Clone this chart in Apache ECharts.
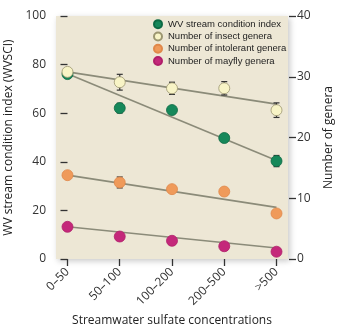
<!DOCTYPE html>
<html><head><meta charset="utf-8">
<script src="https://cdn.jsdelivr.net/npm/echarts@6/dist/echarts.min.js"></script>
<style>html,body{margin:0;padding:0;background:#fff}#c{width:357px;height:327px}</style>
</head><body><div id="c"></div>
<script>
const categories = ['0–50', '50–100', '100–200', '200–500', '>500'];
const wvsci = [76.1, 62.1, 61.3, 49.8, 40.3];
const wvsciErr = [0.6, 2.0, 1.2, 0.8, 2.3];
const wvsciTrend = [76.2, 40.5];
const insect = [30.8, 29.1, 28.1, 28.1, 24.5];
const insectErr = [0.3, 1.3, 1.0, 1.1, 1.2];
const insectTrend = [30.8, 25.5];
const intolerant = [13.8, 12.6, 11.5, 11.1, 7.5];
const intolerantErr = [0.3, 0.9, 0.4, 0.4, 0.4];
const intolerantTrend = [13.8, 8.5];
const mayfly = [5.3, 3.7, 3.0, 2.1, 1.2];
const mayflyErr = [0.2, 0.3, 0.2, 0.2, 0.2];
const mayflyTrend = [5.3, 1.8];

const font = 'Open Sans';
const idx = categories.map((c, i) => i);
const pts = arr => arr.map((v, i) => [i, v]);
const trend = t => [[0, t[0]], [categories.length - 1, t[1]]];
const errData = (vals, errs) => vals.map((v, i) => [i, v - errs[i], v + errs[i]]);

function errSeries(vals, errs, yIdx) {
  return {
    type: 'custom', yAxisIndex: yIdx, z: 2, silent: true,
    data: errData(vals, errs),
    renderItem: (params, api) => {
      const lo = api.coord([api.value(0), api.value(1)]);
      const hi = api.coord([api.value(0), api.value(2)]);
      const w = 3;
      const st = { stroke: '#333', lineWidth: 1.2 };
      return { type: 'group', children: [
        { type: 'line', shape: { x1: lo[0], y1: lo[1], x2: hi[0], y2: hi[1] }, style: st },
        { type: 'line', shape: { x1: lo[0] - w, y1: lo[1], x2: lo[0] + w, y2: lo[1] }, style: st },
        { type: 'line', shape: { x1: hi[0] - w, y1: hi[1], x2: hi[0] + w, y2: hi[1] }, style: st }
      ]};
    }
  };
}
function trendSeries(t, yIdx) {
  return { type: 'line', yAxisIndex: yIdx, data: trend(t), symbol: 'none', silent: true, z: 1,
    lineStyle: { color: '#8b8b79', width: 1.6 } };
}
function scatter(name, vals, yIdx, color, border) {
  return { type: 'scatter', name, yAxisIndex: yIdx, data: pts(vals), symbolSize: 11, z: 3,
    itemStyle: { color, borderColor: border, borderWidth: 0.8, opacity: 1 } };
}
const tickStyle = { show: true, inside: false, length: 7, lineStyle: { color: '#333', width: 1.3 } };
const hiddenLine = { show: true, lineStyle: { color: 'rgba(0,0,0,0)' } };

const chart = echarts.init(document.getElementById('c'));
chart.setOption({
  animation: false,
  textStyle: { fontFamily: font },
  grid: { left: 56, right: 69, top: 16, bottom: 68, outerBoundsMode: 'none', containLabel: false,
    show: true, backgroundColor: '#ede7d5',
    borderWidth: 0, shadowColor: 'rgba(0,0,0,0.22)', shadowBlur: 6, shadowOffsetX: 2, shadowOffsetY: 2 },
  legend: {
    orient: 'vertical', left: 153, top: 18, itemWidth: 8, itemHeight: 8, itemGap: 0,
    icon: 'circle', padding: 0,
    textStyle: { fontFamily: 'Liberation Sans', fontSize: 9.5, lineHeight: 12.3, color: '#222', padding: [0, 0, 0, 1] },
    data: ['WV stream condition index', 'Number of insect genera', 'Number of intolerant genera', 'Number of mayfly genera']
  },
  xAxis: {
    type: 'value', min: -0.22, max: 4.22, offset: 2,
    name: 'Streamwater sulfate concentrations', nameLocation: 'middle', nameGap: 54,
    nameTextStyle: { fontSize: 12, color: '#222', fontFamily: font },
    axisLine: hiddenLine, splitLine: { show: false },
    axisTick: Object.assign({ customValues: idx }, tickStyle),
    axisLabel: { customValues: idx, rotate: 45, fontSize: 12, color: '#333', margin: 9,
      formatter: v => categories[Math.round(v)] }
  },
  yAxis: [
    { type: 'value', min: 0, max: 100, interval: 20, offset: 1,
      name: 'WV stream condition index (WVSCI)', nameLocation: 'middle', nameGap: 35, nameRotate: 90,
      nameTextStyle: { fontSize: 12, color: '#222', fontFamily: font },
      axisLine: hiddenLine, splitLine: { show: false },
      axisTick: tickStyle,
      axisLabel: { fontSize: 12, color: '#333', margin: 9 } },
    { type: 'value', min: 0, max: 40, interval: 10, offset: 1, position: 'right',
      name: 'Number of genera', nameLocation: 'middle', nameGap: 34, nameRotate: 90,
      nameTextStyle: { fontSize: 12, color: '#222', fontFamily: font },
      axisLine: hiddenLine, splitLine: { show: false },
      axisTick: tickStyle,
      axisLabel: { fontSize: 12, color: '#333', margin: 8 } }
  ],
  series: [
    trendSeries(wvsciTrend, 0), trendSeries(insectTrend, 1), trendSeries(intolerantTrend, 1), trendSeries(mayflyTrend, 1),
    errSeries(wvsci, wvsciErr, 0), errSeries(insect, insectErr, 1), errSeries(intolerant, intolerantErr, 1), errSeries(mayfly, mayflyErr, 1),
    scatter('WV stream condition index', wvsci, 0, '#16885a', '#0d6a44'),
    scatter('Number of insect genera', insect, 1, '#f8f4c6', '#9c9670'),
    scatter('Number of intolerant genera', intolerant, 1, '#ef9a5a', '#e0884a'),
    scatter('Number of mayfly genera', mayfly, 1, '#c4287a', '#b01f6a')
  ]
});
</script></body></html>
